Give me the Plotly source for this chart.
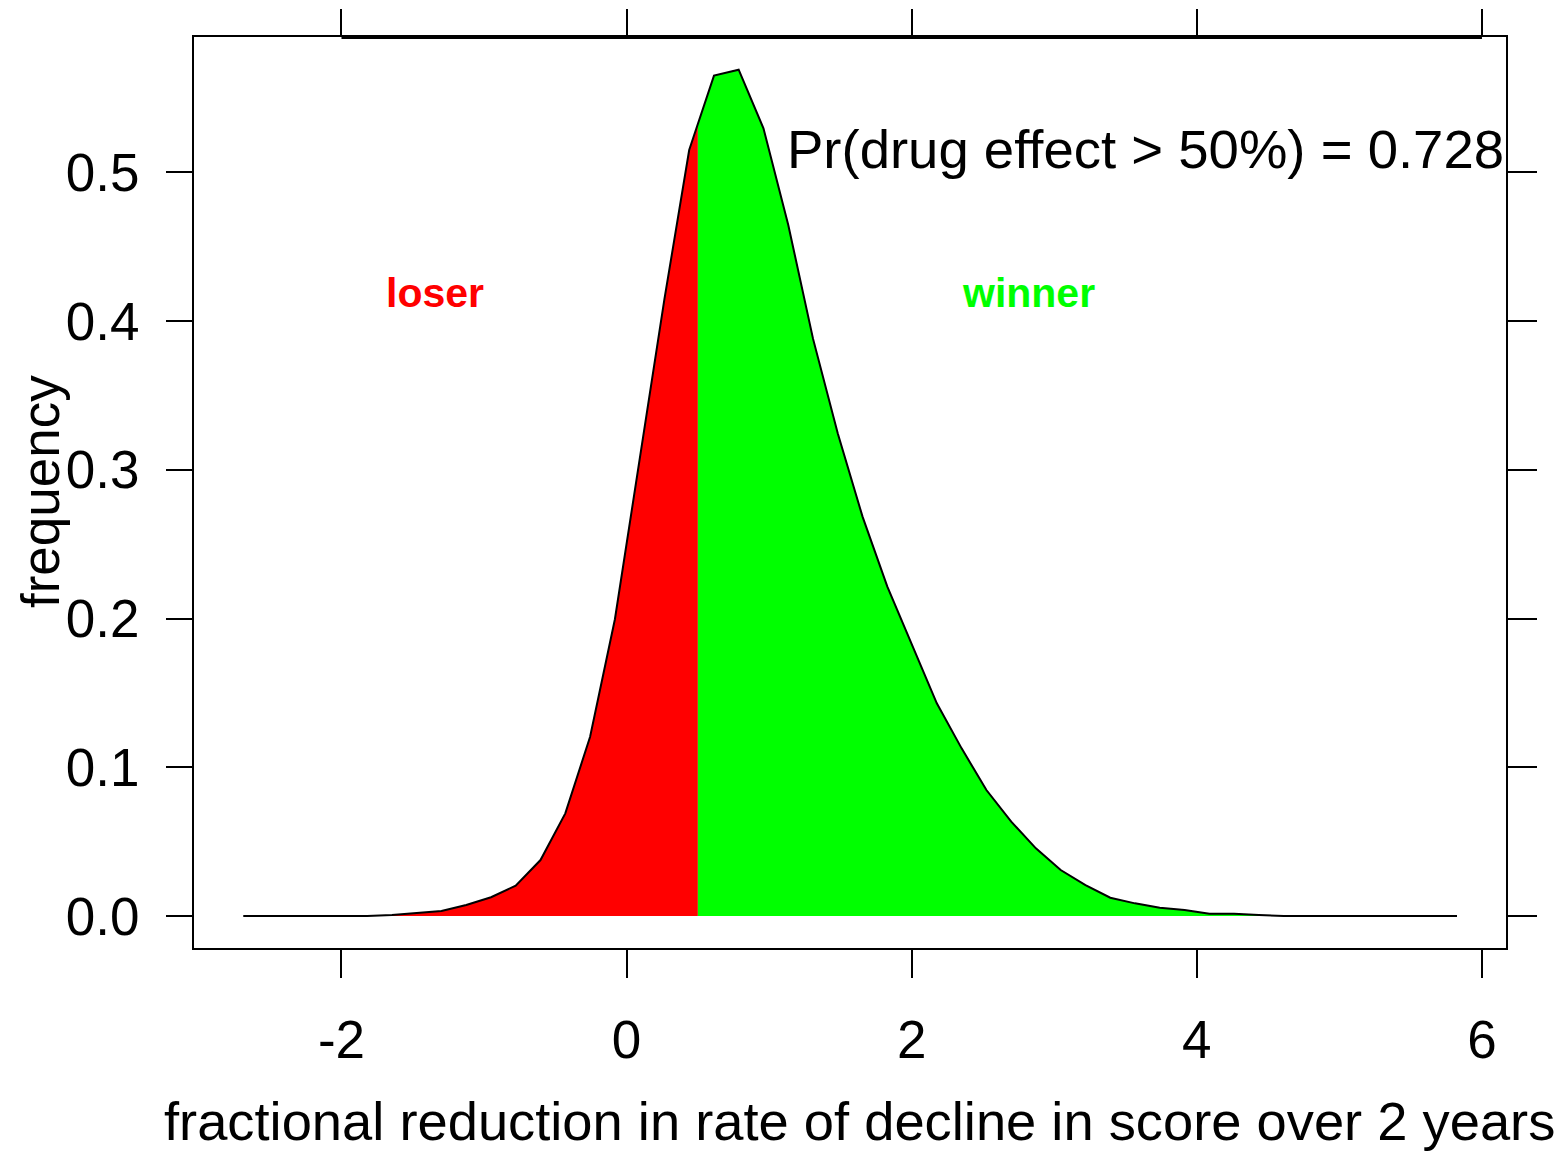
import numpy as np
import plotly.graph_objects as go

# fractional reduction values (x) and frequency (y)
x_vals = [-2.689, -2.515, -2.341, -2.168, -1.994, -1.820, -1.646, -1.473, -1.299, -1.125,
          -0.951, -0.778, -0.604, -0.430, -0.256, -0.082, 0.091, 0.265, 0.439, 0.613,
          0.786, 0.960, 1.134, 1.308, 1.481, 1.655, 1.829, 2.003, 2.176, 2.350,
          2.524, 2.698, 2.871, 3.045, 3.219, 3.393, 3.566, 3.740, 3.914, 4.088,
          4.261, 4.435, 4.609, 4.783, 4.956, 5.130, 5.304, 5.478, 5.651, 5.825]
freq = [0.0, 0.0, 0.0, 0.0, 0.0, 0.0, 0.0007, 0.0018, 0.0034, 0.0074,
        0.0126, 0.0204, 0.0376, 0.0690, 0.1205, 0.1995, 0.3060, 0.4145, 0.5150, 0.5650,
        0.5690, 0.5296, 0.4646, 0.3880, 0.3245, 0.2685, 0.2214, 0.1815, 0.1430, 0.1127,
        0.0847, 0.0634, 0.0455, 0.0309, 0.0208, 0.0123, 0.0085, 0.0056, 0.0040, 0.0015,
        0.0015, 0.0007, 0.0, 0.0, 0.0, 0.0, 0.0, 0.0, 0.0, 0.0]
threshold = 0.5
prob_text = "Pr(drug effect > 50%) = 0.728"
x_ticks = [-2, 0, 2, 4, 6]
x_ticklabels = ["-2", "0", "2", "4", "6"]
y_ticks = [0.0, 0.1, 0.2, 0.3, 0.4, 0.5]
y_ticklabels = ["0.0", "0.1", "0.2", "0.3", "0.4", "0.5"]

xa = np.array(x_vals)
ya = np.array(freq)
y_thr = float(np.interp(threshold, xa, ya))
lm = xa < threshold
rm = xa > threshold
x_lo = list(xa[lm]) + [threshold]
y_lo = list(ya[lm]) + [y_thr]
x_hi = [threshold] + list(xa[rm])
y_hi = [y_thr] + list(ya[rm])

FONT = "Liberation Sans, Arial, Helvetica, sans-serif"
XR = [-3.0416, 6.1757]
YR = [-0.02219, 0.59164]

fig = go.Figure()
fig.add_trace(go.Scatter(x=x_lo, y=y_lo, mode="lines", fill="tozeroy",
                         fillcolor="#ff0000", line=dict(width=0, color="#ff0000"),
                         hoverinfo="skip", showlegend=False))
fig.add_trace(go.Scatter(x=x_hi, y=y_hi, mode="lines", fill="tozeroy",
                         fillcolor="#00ff00", line=dict(width=0, color="#00ff00"),
                         hoverinfo="skip", showlegend=False))
fig.add_trace(go.Scatter(x=x_vals, y=freq, mode="lines",
                         line=dict(color="black", width=2),
                         hoverinfo="skip", showlegend=False))
# invisible trace to activate secondary axes (top / right ticks)
fig.add_trace(go.Scatter(x=[x_vals[0]], y=[freq[0]], xaxis="x2", yaxis="y2",
                         mode="markers", marker=dict(opacity=0),
                         hoverinfo="skip", showlegend=False))

axis_common = dict(showgrid=False, zeroline=False, showline=False, automargin=False,
                   ticks="outside", tickwidth=2, tickcolor="black")

fig.update_layout(
    width=1558, height=1144,
    margin=dict(l=185, r=59, t=28, b=203, pad=0, autoexpand=False),
    paper_bgcolor="white", plot_bgcolor="white",
    font=dict(family=FONT, size=53, color="black"),
    xaxis=dict(range=XR, tickvals=x_ticks, ticktext=x_ticklabels, ticklen=28,
               ticklabelstandoff=16, tickfont=dict(size=53), **axis_common),
    yaxis=dict(range=YR, tickvals=y_ticks, ticktext=y_ticklabels, ticklen=26,
               ticklabelstandoff=16, tickfont=dict(size=53), **axis_common),
    xaxis2=dict(range=XR, tickvals=x_ticks, ticklen=26, showticklabels=False,
                overlaying="x", side="top", **axis_common),
    yaxis2=dict(range=YR, tickvals=y_ticks, ticklen=29, showticklabels=False,
                overlaying="y", side="right", **axis_common),
)

# plot box
fig.add_shape(type="rect", xref="paper", yref="paper", x0=0, y0=0, x1=1, y1=1,
              line=dict(color="black", width=2), fillcolor="rgba(0,0,0,0)")
# top axis line from first to last tick
fig.add_shape(type="line", xref="x", yref="paper", x0=x_ticks[0], x1=x_ticks[-1],
              y0=0.9985, y1=0.9985, line=dict(color="black", width=3.5))

fig.add_annotation(text=prob_text, x=3.637, y=0.515, xref="x", yref="y",
                   showarrow=False, font=dict(size=54.5, color="black"),
                   xanchor="center", yanchor="middle")
fig.add_annotation(text="<b>loser</b>", x=-1.344, y=0.419, xref="x", yref="y",
                   showarrow=False, font=dict(size=41, color="#ff0000"),
                   xanchor="center", yanchor="middle")
fig.add_annotation(text="<b>winner</b>", x=2.817, y=0.419, xref="x", yref="y",
                   showarrow=False, font=dict(size=41, color="#00ff00"),
                   xanchor="center", yanchor="middle")
fig.add_annotation(text="fractional reduction in rate of decline in score over 2 years",
                   x=0.5076, y=-0.1884, xref="paper", yref="paper",
                   showarrow=False, font=dict(size=54.3, color="black"),
                   xanchor="center", yanchor="middle")
fig.add_annotation(text="frequency", x=-0.1164, y=0.5005, xref="paper", yref="paper",
                   showarrow=False, textangle=-90, font=dict(size=53, color="black"),
                   xanchor="center", yanchor="middle")

fig.write_html("out.html")
